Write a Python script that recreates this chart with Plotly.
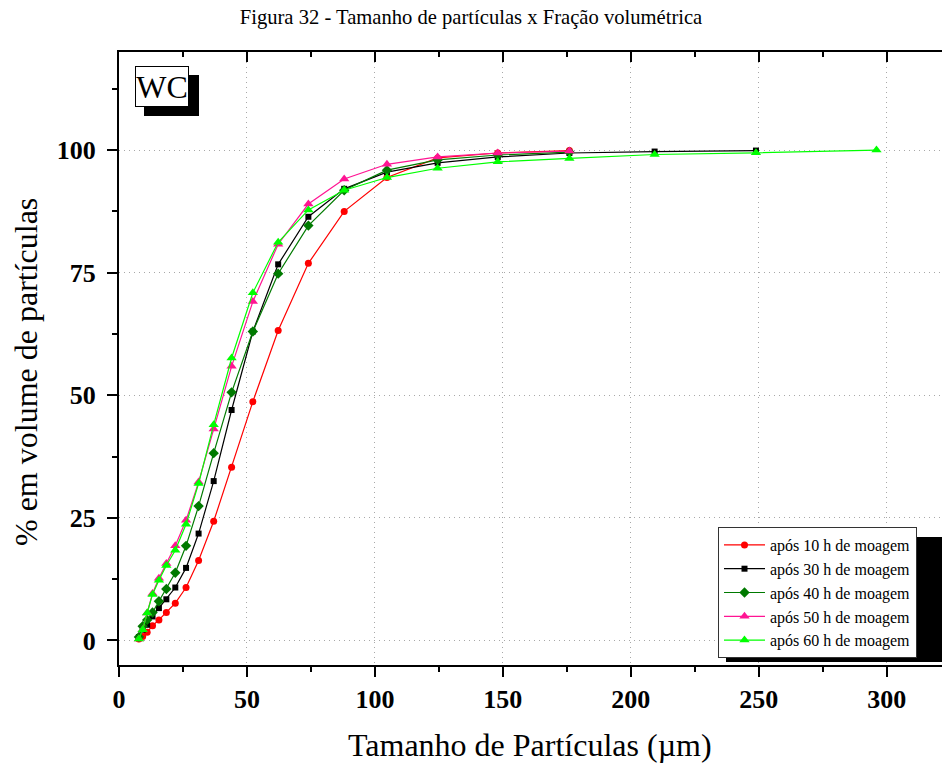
import plotly.graph_objects as go

# particle size classes (µm)
sizes = [7.78, 9.25, 11.0, 13.1, 15.6, 18.5, 22.0, 26.2, 31.1, 37.0, 44.0,
         52.3, 62.2, 74.0, 88.0, 104.7, 124.5, 148.0, 176.0, 209.3, 248.9, 296.0]

y_10h = [0.3, 0.8, 1.7, 3.0, 4.2, 5.7, 7.6, 10.8, 16.3, 24.3, 35.3, 48.7, 63.2,
         76.9, 87.5, 94.4, 98.4, 99.4, 99.9]
y_30h = [0.7, 2.2, 3.2, 4.9, 6.6, 8.4, 10.8, 14.8, 21.8, 32.5, 47.0, 63.0, 76.7,
         86.4, 92.1, 95.5, 97.4, 98.6, 99.4, 99.7, 99.9]
y_40h = [0.7, 2.9, 4.2, 5.7, 8.0, 10.5, 13.8, 19.3, 27.4, 38.2, 50.6, 63.0, 74.8,
         84.6, 91.8, 95.9, 98.0, 99.0, 99.6]
y_50h = [0.3, 2.2, 5.6, 9.6, 12.7, 15.7, 19.3, 24.5, 32.3, 43.1, 55.9, 69.1, 80.8,
         89.0, 94.1, 97.1, 98.6, 99.4, 99.8]
y_60h = [0.3, 2.2, 5.6, 9.4, 12.3, 15.3, 18.4, 23.7, 32.0, 44.0, 57.6, 70.9, 81.2,
         87.8, 91.8, 94.4, 96.3, 97.6, 98.3, 99.1, 99.45, 100.0]

names = ["após 10 h de moagem", "após 30 h de moagem", "após 40 h de moagem",
         "após 50 h de moagem", "após 60 h de moagem"]
series = [y_10h, y_30h, y_40h, y_50h, y_60h]
colors = ["#FF0000", "#000000", "#007A00", "#FF1493", "#00FF00"]
symbols = ["circle", "square", "diamond", "triangle-up", "triangle-up"]
msizes = [7, 6, 8, 9, 9]

FONT = "Liberation Serif"
W, H = 942, 769
L, R, T, B = 119, 0, 52, 104
PW, PH = W - L - R, H - T - B


def px(xp):
    return (xp - L) / PW


def py(yp):
    return (H - B - yp) / PH


fig = go.Figure()
for ys, nm, c, s, ms in zip(series, names, colors, symbols, msizes):
    fig.add_trace(go.Scatter(
        x=sizes[:len(ys)], y=ys, name=nm, mode="lines+markers",
        line=dict(color=c, width=1.2),
        marker=dict(color=c, symbol=s, size=ms, line=dict(width=0)),
    ))

# dummy trace for the top mirror axis
fig.add_trace(go.Scatter(x=[], y=[], xaxis="x2", showlegend=False, hoverinfo="skip"))

axis_common = dict(showline=True, linecolor="black", linewidth=2,
                   showgrid=True, gridcolor="#a8a8a8", gridwidth=1, griddash="1px,4px",
                   zeroline=False,
                   tickfont=dict(family=FONT, size=26, color="black", weight="bold"),
                   tickcolor="black", tickwidth=2, ticklen=10)

fig.update_layout(
    width=W, height=H,
    margin=dict(l=L, r=R, t=T, b=B),
    paper_bgcolor="white", plot_bgcolor="white",
    font=dict(family=FONT, color="black"),
    showlegend=True,
    xaxis=dict(range=[0, 321.6], tickvals=[0, 50, 100, 150, 200, 250, 300],
               ticks="outside",
               minor=dict(tickvals=[25, 75, 125, 175, 225, 275], ticks="outside",
                          ticklen=5, tickwidth=2, tickcolor="black", showgrid=False),
               **axis_common),
    xaxis2=dict(overlaying="x", side="top", matches="x", range=[0, 321.6],
                tickvals=[0, 50, 100, 150, 200, 250, 300], ticks="inside",
                ticklen=10, tickwidth=2, tickcolor="black",
                minor=dict(tickvals=[25, 75, 125, 175, 225, 275], ticks="inside",
                           ticklen=5, tickwidth=2, tickcolor="black"),
                showticklabels=False, showline=True, linecolor="black", linewidth=2,
                showgrid=False, zeroline=False),
    yaxis=dict(range=[-5, 120], tickvals=[0, 25, 50, 75, 100], ticks="outside",
               ticklabelstandoff=6,
               minor=dict(tickvals=[12.5, 37.5, 62.5, 87.5, 112.5], ticks="outside",
                          ticklen=5, tickwidth=2, tickcolor="black", showgrid=False),
               **axis_common),
    legend=dict(x=px(718), y=py(527), xanchor="left", yanchor="top",
                bgcolor="white", bordercolor="#333", borderwidth=1,
                font=dict(family=FONT, size=16, color="black"),
                itemwidth=41, tracegroupgap=0),
    title=dict(text="Figura 32 - Tamanho de partículas x Fração volumétrica",
               x=0.5, xanchor="center", y=1 - 17 / H, yanchor="middle",
               font=dict(family=FONT, size=20.6, color="black")),
)

# shadows (legend and WC label)
fig.add_shape(type="rect", xref="paper", yref="paper",
              x0=px(726), x1=px(945), y0=py(662), y1=py(537),
              fillcolor="black", line=dict(width=0), layer="above")
fig.add_shape(type="rect", xref="paper", yref="paper",
              x0=px(144), x1=px(199), y0=py(116), y1=py(75),
              fillcolor="black", line=dict(width=0), layer="above")

fig.add_annotation(text="WC", xref="paper", yref="paper",
                   x=px(162), y=py(86.5), xanchor="center", yanchor="middle",
                   showarrow=False, font=dict(family=FONT, size=32, color="black"),
                   bgcolor="white", bordercolor="black", borderwidth=1,
                   borderpad=0, width=52, height=39)

# axis titles
fig.add_annotation(text="Tamanho de Partículas (µm)", xref="paper", yref="paper",
                   x=px(530), y=py(745), xanchor="center", yanchor="middle",
                   showarrow=False, font=dict(family=FONT, size=32, color="black"))
fig.add_annotation(text="% em volume de partículas", xref="paper", yref="paper",
                   x=px(26), y=py(372), xanchor="center", yanchor="middle",
                   textangle=-90,
                   showarrow=False, font=dict(family=FONT, size=32, color="black"))

fig.write_html("out.html")
